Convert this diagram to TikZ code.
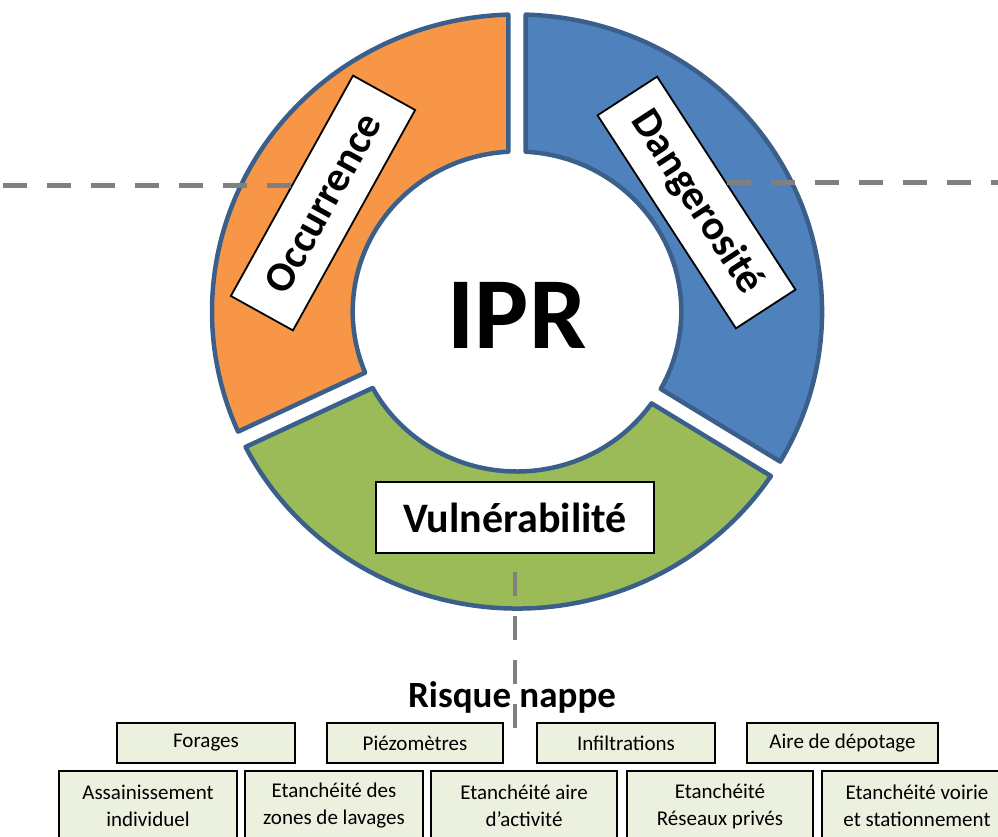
\documentclass[tikz,border=0pt]{standalone}
\usepackage{fontspec}
\setmainfont{Carlito}
\definecolor{segorange}{HTML}{F79646}
\definecolor{segblue}{HTML}{4F81BD}
\definecolor{seggreen}{HTML}{9BBB59}
\definecolor{segline}{HTML}{3A5F8B}
\definecolor{itemfill}{HTML}{EBF1DE}
\definecolor{dashgray}{HTML}{808080}
\newcommand{\ringpart}[3]{%
  \filldraw[fill=#3, ringseg] ({#1+1.64}:297) arc[start angle={#1+1.64}, end angle={#2-1.64}, radius=297]
    -- ({#2-3.05}:160) arc[start angle={#2-3.05}, end angle={#1+3.05}, radius=160] -- cycle;}
\begin{document}
\begin{tikzpicture}[x=1pt, y=1pt,
    ringseg/.style={draw=segline, line width=4.5pt, line join=round},
    tagbox/.style={draw=black, fill=white, line width=1.8pt, inner sep=0pt, minimum height=71pt, font=\fontsize{42}{48}\selectfont\bfseries},
    itembox/.style={draw=black, fill=itemfill, line width=1.8pt, inner sep=0pt, align=center, font=\fontsize{21}{27}\selectfont},
    dashlink/.style={draw=dashgray, line width=4.5pt, dash pattern=on 24pt off 20pt}]
        \useasboundingbox (0,0) rectangle (998,836);
        \clip (0,0) rectangle (998,836);
        \begin{scope}[shift={(517,524.5)}, xscale=1.027]
            \ringpart{90}{205.5}{segorange}
            \ringpart{205.5}{328}{seggreen}
            \ringpart{-32}{90}{segblue}
        \end{scope}
        \node[font=\fontsize{102}{110}\selectfont\bfseries] (ipr) at (517,521) {IPR};
        \node[tagbox, minimum width=252pt, rotate=61] (occ) at (323,633) {Occurrence};
        \node[tagbox, minimum width=254pt, rotate=-57] (dang) at (696.5,633.5) {Dangerosité};
        \node[tagbox, minimum width=278pt] (vul) at (515,318.5) {Vulnérabilité};
        \node[font=\fontsize{37}{42}\selectfont\bfseries, anchor=base] (risk) at (512,129) {Risque nappe};
        \node[itembox, minimum width=178pt, minimum height=40pt] (forages) at (206,93) {Forages};
        \node[itembox, minimum width=176pt, minimum height=40pt] (piezo) at (415,93) {Piézomètres};
        \node[itembox, minimum width=178pt, minimum height=40pt] (infil) at (626,93) {Infiltrations};
        \node[itembox, minimum width=191pt, minimum height=40pt] (aire) at (842.5,93) {Aire de dépotage};
        \node[itembox, minimum width=178pt, minimum height=70pt] (assain) at (148,30) {Assainissement\\individuel};
        \node[itembox, minimum width=178pt, minimum height=70pt] (lavage) at (334,30) {Etanchéité des\\zones de lavages};
        \node[itembox, minimum width=186pt, minimum height=70pt] (activ) at (524,30) {Etanchéité aire\\d’activité};
        \node[itembox, minimum width=186pt, minimum height=70pt] (reseau) at (720,30) {Etanchéité\\Réseaux privés};
        \node[itembox, minimum width=190pt, minimum height=70pt] (voirie) at (917,30) {Etanchéité voirie\\et stationnement};
        \coordinate (wl) at (0,651);
        \coordinate (wr) at (998,653);
        \coordinate (rn) at (515,108);
        \draw[dashlink] (occ.north) -- (occ.north -| wl);
        \draw[dashlink] (dang.north) -- (dang.north -| wr);
        \draw[dashlink] (rn) -- (vul.south);
    \end{tikzpicture}
\end{document}
